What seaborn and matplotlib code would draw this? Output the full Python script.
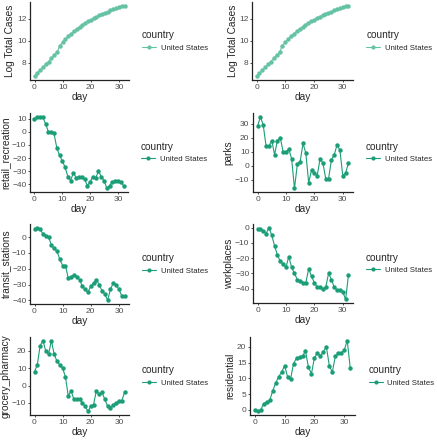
import pandas as pd
import numpy as np
import matplotlib
matplotlib.use('Agg')
import matplotlib.pyplot as plt
import seaborn as sns
from matplotlib.ticker import MultipleLocator

sns.set_style('ticks')
plt.rcParams['font.family'] = ['Liberation Sans', 'DejaVu Sans']

# data
day = list(range(33))
country = 'United States'

log_total_cases = [6.75, 7.05, 7.3, 7.6, 7.85, 8.1, 8.4, 8.7, 8.95, 9.55, 9.85,
                   10.15, 10.4, 10.65, 10.85, 11.05, 11.25, 11.45, 11.6, 11.75, 11.9,
                   12.05, 12.2, 12.3, 12.45, 12.55, 12.65, 12.75, 12.85, 12.95, 13.05,
                   13.15, 13.2]
retail_recreation = [10, 11, 11.5, 11, 6, 0, 0, -1, -12, -18, -22, -27, -34, -37, -31,
                     -35, -34, -34, -36, -41, -38, -34, -35, -30, -34, -37, -43, -41,
                     -38, -37, -37, -38, -41]
parks = [28, 35, 29, 14, 14, 18, 8, 18, 20, 10, 10, 12, 5, -16, 1, 3, 16, 9, -12, -3,
         -5, -7, 5, 2, -9, -9, 4, 8, 15, 11, -7, -5, 2]
transit_stations = [5, 6, 5, 2, 1, 0, -5, -7, -9, -14, -18, -18, -26, -25, -24, -25,
                    -27, -31, -33, -35, -31, -29, -27, -30, -34, -36, -40, -33, -29,
                    -30, -33, -37, -37]
workplaces = [-1, -1, -2, -4, 0, -5, -12, -18, -22, -24, -26, -19, -26, -30, -34, -35,
              -36, -36, -27, -32, -36, -39, -39, -40, -39, -30, -34, -39, -41, -41,
              -42, -47, -31]
grocery_pharmacy = [8, 12, 23, 26, 20, 18, 26, 18, 14, 12, 10, 5, -6, -3, -8, -8, -8,
                    -10, -12, -15, -12, -11, -3, -5, -4, -8, -12, -13, -11, -10, -9,
                    -9, -4]
residential = [0, -0.5, 0, 2, 2.5, 3, 6, 8.5, 10.5, 12, 14, 10.5, 9.8, 14.7, 16.5,
               16.7, 17, 18.7, 13.5, 11.5, 16.5, 18, 17.2, 18.5, 20, 14, 12, 17, 18,
               18, 19, 22, 13.3]

panels = [
    ('Log Total Cases', log_total_cases, '#66c2a5', 2, (30, 2, 129, 80)),
    ('Log Total Cases', log_total_cases, '#66c2a5', 2, (252, 2, 353, 80)),
    ('retail_recreation', retail_recreation, '#1b9e77', 10, (30, 113, 128, 192)),
    ('parks', parks, '#1b9e77', 10, (253, 113, 353, 192)),
    ('transit_stations', transit_stations, '#1b9e77', 10, (30, 224, 129, 304)),
    ('workplaces', workplaces, '#1b9e77', 10, (253, 224, 353, 303)),
    ('grocery_pharmacy', grocery_pharmacy, '#1b9e77', 10, (30, 337, 129, 415)),
    ('residential', residential, '#1b9e77', 5, (250, 337, 355, 415)),
]

W, H = 437, 440
fig = plt.figure(figsize=(W / 100, H / 100), dpi=100)

for name, vals, col, ystep, (l, t, r, b) in panels:
    ax = fig.add_axes([l / W, 1 - b / H, (r - l) / W, (b - t) / H])
    df = pd.DataFrame({'day': day, name: vals, 'country': country})
    sns.lineplot(data=df, x='day', y=name, hue='country', palette=[col],
                 marker='o', markersize=3.2, markeredgewidth=0, linewidth=0.8, ax=ax)
    ax.xaxis.set_major_locator(MultipleLocator(10))
    ax.yaxis.set_major_locator(MultipleLocator(ystep))
    ax.tick_params(labelsize=6, labelcolor='#4d4d4d', color='#333333',
                   length=1.6, width=0.6, pad=1)
    for s in ['left', 'bottom']:
        ax.spines[s].set_linewidth(0.9)
        ax.spines[s].set_color('#222222')
    sns.despine(ax=ax)
    ax.set_xlabel('day', fontsize=7.3, labelpad=1)
    ax.set_ylabel(name, fontsize=7.3, labelpad=1)
    leg = ax.legend(title='country', loc='center left', bbox_to_anchor=(1.1, 0.5),
                    frameon=False, fontsize=5.6, title_fontsize=7.2,
                    handlelength=1.8, handletextpad=0.6, borderaxespad=0)
    leg._legend_box.align = 'left'
    for h in leg.legend_handles:
        h.set_markersize(3)

fig.savefig('out.png', dpi=100)
